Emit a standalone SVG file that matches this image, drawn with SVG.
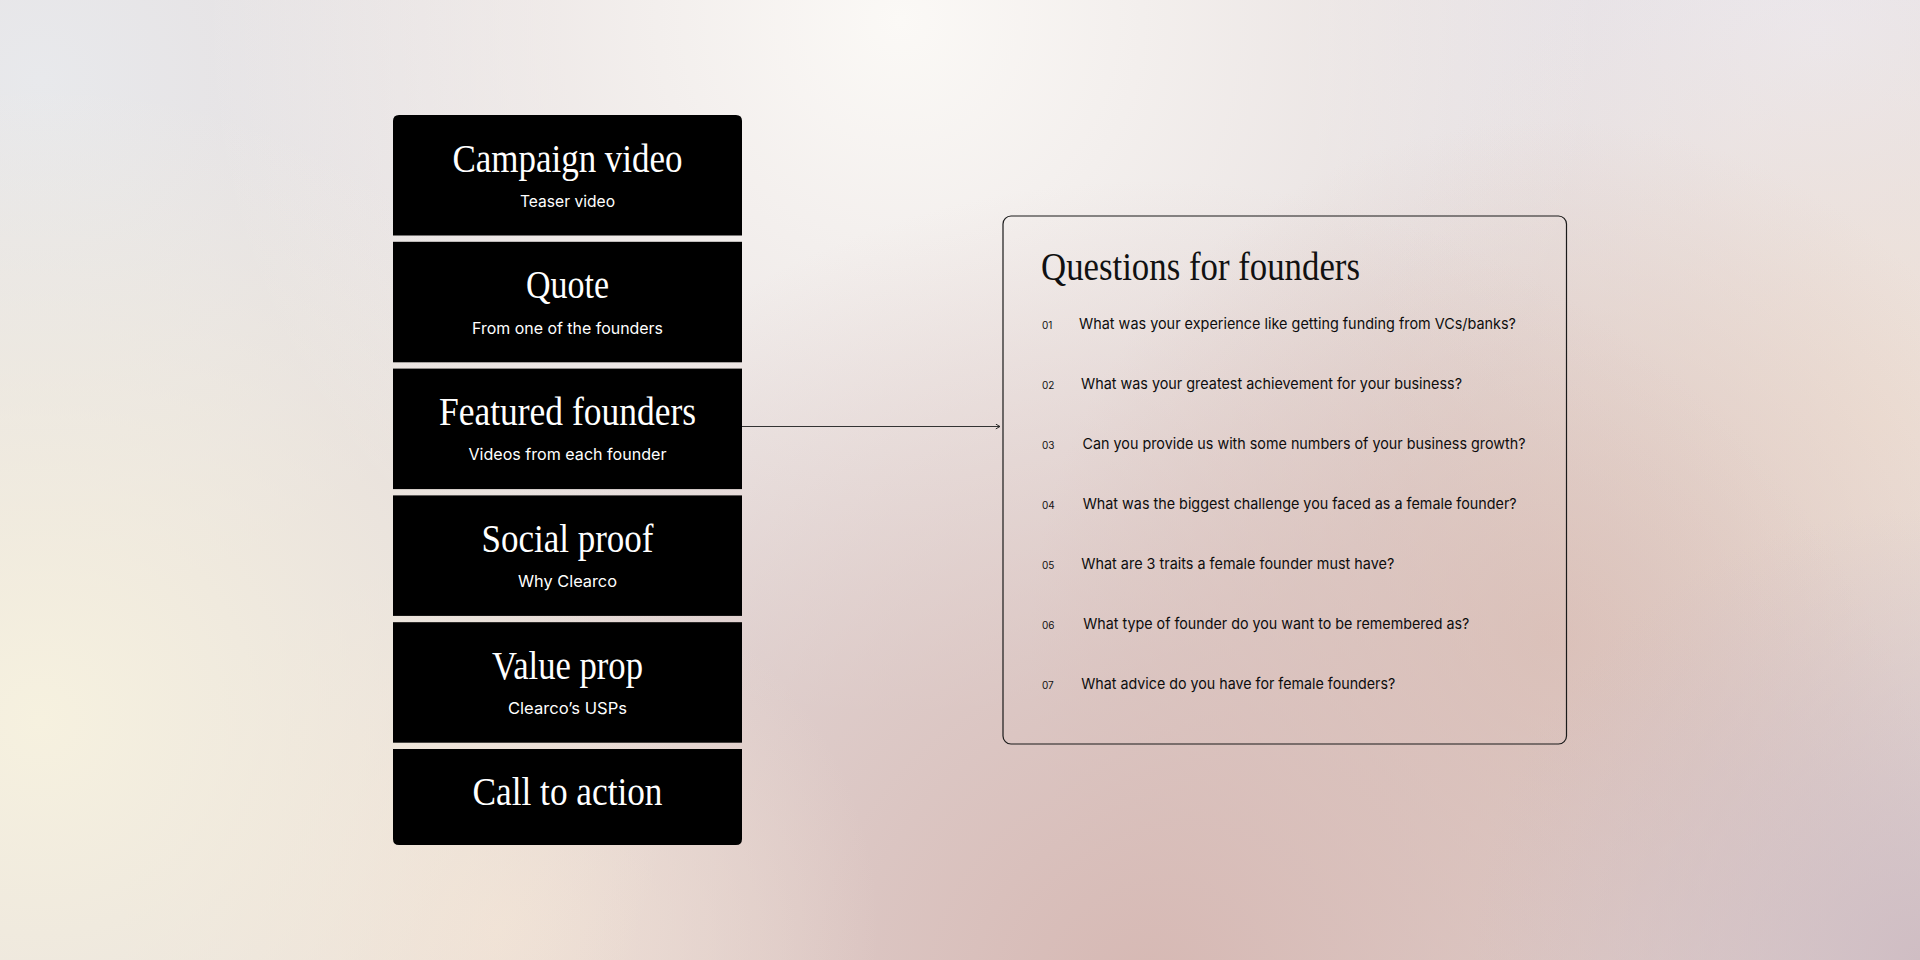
<svg xmlns="http://www.w3.org/2000/svg" width="1920" height="960" viewBox="0 0 1920 960">
<defs>
<radialGradient id="gTop" cx="900" cy="20" r="700" gradientUnits="userSpaceOnUse">
<stop offset="0" stop-color="#fbf9f6" stop-opacity="1"/>
<stop offset="1" stop-color="#fbf9f6" stop-opacity="0"/>
</radialGradient>
<radialGradient id="gLeft" cx="40" cy="720" r="640" gradientUnits="userSpaceOnUse">
<stop offset="0" stop-color="#f6f1df" stop-opacity="1"/>
<stop offset="1" stop-color="#f6f1df" stop-opacity="0"/>
</radialGradient>
<radialGradient id="gBot" cx="1150" cy="1000" r="820" gradientUnits="userSpaceOnUse">
<stop offset="0" stop-color="#d6b8b3" stop-opacity="1"/>
<stop offset="1" stop-color="#d6b8b3" stop-opacity="0"/>
</radialGradient>
<radialGradient id="gPeach" cx="1550" cy="640" r="520" gradientUnits="userSpaceOnUse">
<stop offset="0" stop-color="#dcc3ba" stop-opacity="0.9"/>
<stop offset="1" stop-color="#dcc3ba" stop-opacity="0"/>
</radialGradient>
<radialGradient id="gBR" cx="1920" cy="960" r="450" gradientUnits="userSpaceOnUse">
<stop offset="0" stop-color="#cfbdc3" stop-opacity="1"/>
<stop offset="1" stop-color="#cfbdc3" stop-opacity="0"/>
</radialGradient>
<radialGradient id="gRight" cx="1880" cy="420" r="520" gradientUnits="userSpaceOnUse">
<stop offset="0" stop-color="#eee0d6" stop-opacity="1"/>
<stop offset="1" stop-color="#eee0d6" stop-opacity="0"/>
</radialGradient>
<radialGradient id="gTR" cx="1820" cy="40" r="520" gradientUnits="userSpaceOnUse">
<stop offset="0" stop-color="#ebe9f0" stop-opacity="1"/>
<stop offset="1" stop-color="#ebe9f0" stop-opacity="0"/>
</radialGradient>
<radialGradient id="gTL" cx="40" cy="80" r="520" gradientUnits="userSpaceOnUse">
<stop offset="0" stop-color="#e8e9ec" stop-opacity="1"/>
<stop offset="1" stop-color="#e8e9ec" stop-opacity="0"/>
</radialGradient>
<radialGradient id="gBL" cx="500" cy="930" r="380" gradientUnits="userSpaceOnUse">
<stop offset="0" stop-color="#efdfd4" stop-opacity="1"/>
<stop offset="1" stop-color="#efdfd4" stop-opacity="0"/>
</radialGradient>
<marker id="arrow" viewBox="0 0 10 10" refX="9" refY="5" markerWidth="6" markerHeight="6" markerUnits="userSpaceOnUse" orient="auto">
<path d="M2,1 L9,5 L2,9" fill="none" stroke="#222" stroke-width="1.6"/>
</marker>
</defs>
<style>
.box { fill: #000; }
.ttl { font-family: "Liberation Serif", "DejaVu Serif", serif; font-size: 41px; fill: #fff; text-anchor: middle; }
.sub { font-family: Inter, "Liberation Sans", sans-serif; font-size: 16px; fill: #fff; text-anchor: middle; }
.qt { font-family: "Liberation Serif", "DejaVu Serif", serif; font-size: 41px; fill: #111; }
.num { font-family: Inter, "Liberation Sans", sans-serif; font-size: 10px; fill: #111; }
.q { font-family: Inter, "Liberation Sans", sans-serif; font-size: 15px; fill: #0d0d0d; }
.conn { stroke: #333; stroke-width: 1.2; fill: none; }
</style>
<rect x="0" y="0" width="1920" height="960" fill="#e4dcdc"/>
<rect x="0" y="0" width="1920" height="960" fill="url(#gTL)"/>
<rect x="0" y="0" width="1920" height="960" fill="url(#gTR)"/>
<rect x="0" y="0" width="1920" height="960" fill="url(#gTop)"/>
<rect x="0" y="0" width="1920" height="960" fill="url(#gRight)"/>
<rect x="0" y="0" width="1920" height="960" fill="url(#gPeach)"/>
<rect x="0" y="0" width="1920" height="960" fill="url(#gBot)"/>
<rect x="0" y="0" width="1920" height="960" fill="url(#gBR)"/>
<rect x="0" y="0" width="1920" height="960" fill="url(#gBL)"/>
<rect x="0" y="0" width="1920" height="960" fill="url(#gLeft)"/>

<g id="connectors">
<line class="conn" x1="742" y1="426.5" x2="1000" y2="426.5" marker-end="url(#arrow)"/>
</g>

<g id="node-campaign-video">
<path class="box" d="M393,121 Q393,115 399,115 L736,115 Q742,115 742,121 L742,235.5 L393,235.5 Z"/>
<text class="ttl" x="567.5" y="171.5" textLength="230" lengthAdjust="spacingAndGlyphs">Campaign video</text>
<text class="sub" x="567.5" y="206.8" textLength="95" lengthAdjust="spacingAndGlyphs">Teaser video</text>
</g>
<g id="node-quote">
<rect class="box" x="393" y="241.8" width="349" height="120.5"/>
<text class="ttl" x="567.5" y="298.3" textLength="83" lengthAdjust="spacingAndGlyphs">Quote</text>
<text class="sub" x="567.5" y="333.6" textLength="191" lengthAdjust="spacingAndGlyphs">From one of the founders</text>
</g>
<g id="node-featured-founders">
<rect class="box" x="393" y="368.6" width="349" height="120.5"/>
<text class="ttl" x="567.5" y="425.1" textLength="257" lengthAdjust="spacingAndGlyphs">Featured founders</text>
<text class="sub" x="567.5" y="460.4" textLength="198" lengthAdjust="spacingAndGlyphs">Videos from each founder</text>
</g>
<g id="node-social-proof">
<rect class="box" x="393" y="495.4" width="349" height="120.5"/>
<text class="ttl" x="567.5" y="551.9" textLength="172" lengthAdjust="spacingAndGlyphs">Social proof</text>
<text class="sub" x="567.5" y="587.2" textLength="99" lengthAdjust="spacingAndGlyphs">Why Clearco</text>
</g>
<g id="node-value-prop">
<rect class="box" x="393" y="622.2" width="349" height="120.5"/>
<text class="ttl" x="567.5" y="678.7" textLength="151" lengthAdjust="spacingAndGlyphs">Value prop</text>
<text class="sub" x="567.5" y="714" textLength="119" lengthAdjust="spacingAndGlyphs">Clearco’s USPs</text>
</g>
<g id="node-call-to-action">
<path class="box" d="M393,749 L742,749 L742,839 Q742,845 736,845 L399,845 Q393,845 393,839 Z"/>
<text class="ttl" x="567.5" y="805" textLength="190" lengthAdjust="spacingAndGlyphs">Call to action</text>
</g>

<g id="node-questions">
<rect x="1003" y="216" width="563.5" height="528" rx="8" ry="8" fill="none" stroke="#1a1a1a" stroke-width="1.2"/>
<text class="qt" x="1041" y="279.5" textLength="319" lengthAdjust="spacingAndGlyphs">Questions for founders</text>
<text class="num" x="1042" y="329">01</text>
<text class="q" x="1079" y="329" textLength="437" lengthAdjust="spacingAndGlyphs">What was your experience like getting funding from VCs/banks?</text>
<text class="num" x="1042" y="389">02</text>
<text class="q" x="1081" y="389" textLength="381" lengthAdjust="spacingAndGlyphs">What was your greatest achievement for your business?</text>
<text class="num" x="1042" y="449">03</text>
<text class="q" x="1082.5" y="449" textLength="443" lengthAdjust="spacingAndGlyphs">Can you provide us with some numbers of your business growth?</text>
<text class="num" x="1042" y="509">04</text>
<text class="q" x="1082.7" y="509" textLength="434" lengthAdjust="spacingAndGlyphs">What was the biggest challenge you faced as a female founder?</text>
<text class="num" x="1042" y="569">05</text>
<text class="q" x="1081.3" y="569" textLength="313" lengthAdjust="spacingAndGlyphs">What are 3 traits a female founder must have?</text>
<text class="num" x="1042" y="629">06</text>
<text class="q" x="1083.3" y="629" textLength="386" lengthAdjust="spacingAndGlyphs">What type of founder do you want to be remembered as?</text>
<text class="num" x="1042" y="689">07</text>
<text class="q" x="1081.3" y="689" textLength="314" lengthAdjust="spacingAndGlyphs">What advice do you have for female founders?</text>
</g>
</svg>
